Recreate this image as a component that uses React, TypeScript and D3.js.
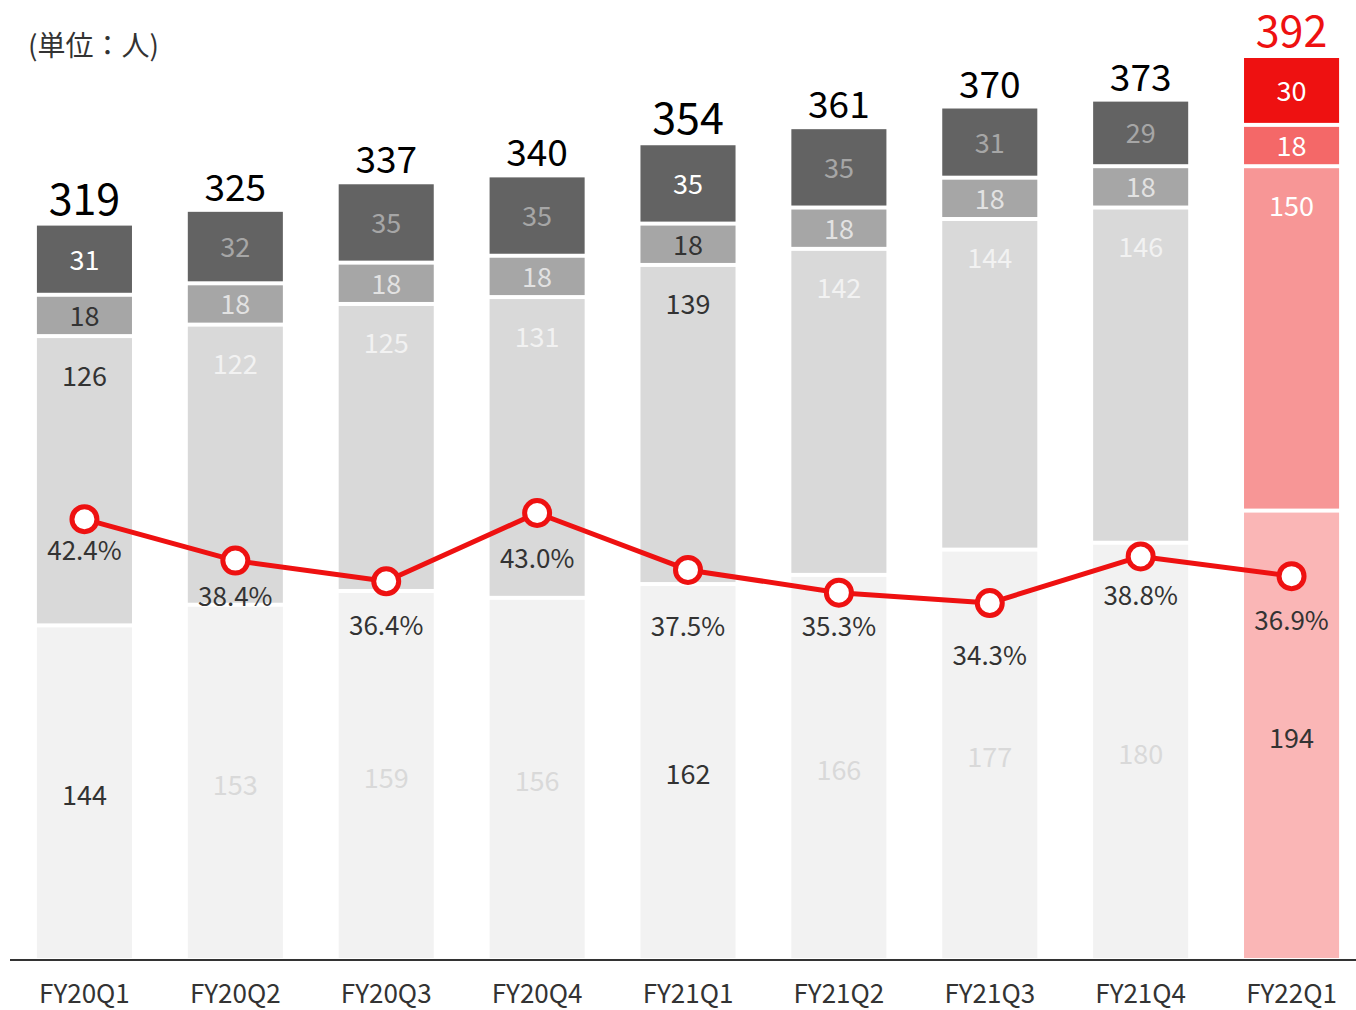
import React from "react";
import * as d3 from "d3";

const categories = ["FY20Q1", "FY20Q2", "FY20Q3", "FY20Q4", "FY21Q1", "FY21Q2", "FY21Q3", "FY21Q4", "FY22Q1"];
const seriesBottom = [144, 153, 159, 156, 162, 166, 177, 180, 194];
const seriesThird = [126, 122, 125, 131, 139, 142, 144, 146, 150];
const seriesSecond = [18, 18, 18, 18, 18, 18, 18, 18, 18];
const seriesTop = [31, 32, 35, 35, 35, 35, 31, 29, 30];
const totals = [319, 325, 337, 340, 354, 361, 370, 373, 392];
const ratios = [42.4, 38.4, 36.4, 43.0, 37.5, 35.3, 34.3, 38.8, 36.9];
const emphasis = ["dark", "faded", "faded", "faded", "dark", "faded", "faded", "faded", "red"];
const pctLabelDy = [32, 36, 45, 46, 57, 34, 53, 39, 45];
const unitLabel = "(単位：人)";

const W = 1356;
const H = 1010;
const FONT = "'Noto Sans CJK JP', 'Noto Sans', sans-serif";
const GAP = 4;

const fills: Record<string, string[]> = {
  gray: ["#f2f2f2", "#d9d9d9", "#a6a6a6", "#636363"],
  red: ["#fab6b6", "#f79696", "#f46868", "#ee1111"],
};
const textColors: Record<string, string[]> = {
  dark: ["#333333", "#333333", "#333333", "#ffffff"],
  faded: ["#d9d9d9", "#f2f2f2", "#e2e2e2", "#a6a6a6"],
  red: ["#333333", "#ffffff", "#ffffff", "#ffffff"],
};

export default function App() {
  const x = d3
    .scaleBand<string>()
    .domain(categories)
    .range([9, 1367])
    .paddingInner(0.37)
    .paddingOuter(0.185);
  const y = d3.scaleLinear().domain([0, 392]).range([958, 58]);
  const yp = d3.scaleLinear().domain([0, 43]).range([958, 513]);

  const seriesList = [seriesBottom, seriesThird, seriesSecond, seriesTop];

  const line = d3
    .line<number>()
    .x((_, i) => (x(categories[i]) as number) + x.bandwidth() / 2)
    .y((d) => yp(d));

  return (
    <svg width={W} height={H} style={{ position: "absolute", left: 0, top: 0, background: "#fff" }} fontFamily={FONT}>
      <text x={28} y={56} fontSize={28} fill="#333">{unitLabel}</text>
      {categories.map((c, i) => {
        const x0 = x(c) as number;
        const bw = x.bandwidth();
        const cx = x0 + bw / 2;
        const pal = emphasis[i] === "red" ? fills.red : fills.gray;
        const tc = textColors[emphasis[i]];
        const big = emphasis[i] !== "faded";
        let cum = 0;
        const segs = seriesList.map((s, k) => {
          const v = s[i];
          const yTop = y(cum + v);
          const yBot = y(cum) - (k === 0 ? 0 : GAP);
          cum += v;
          let ly: number;
          if (k === 1) ly = yTop + 38;
          else if (k === 0) ly = (yTop + yBot) / 2 + 3;
          else ly = (yTop + yBot) / 2 + 1;
          return (
            <g key={k}>
              <rect x={x0} y={yTop} width={bw} height={Math.max(0, yBot - yTop)} fill={pal[k]} />
              <text x={cx} y={ly} dy="0.35em" textAnchor="middle" fontSize={27} fill={tc[k]}>
                {v}
              </text>
            </g>
          );
        });
        return (
          <g key={c}>
            {segs}
            <text
              x={cx}
              y={y(totals[i]) - 11}
              textAnchor="middle"
              fontSize={big ? 43 : 37}
              fill={emphasis[i] === "red" ? "#ee1111" : "#000"}
            >
              {totals[i]}
            </text>
            <text x={cx} y={1003} textAnchor="middle" fontSize={26} fill="#333">
              {c}
            </text>
          </g>
        );
      })}
      <line x1={10} x2={1356} y1={960} y2={960} stroke="#333" strokeWidth={2} />
      <path d={line(ratios) || ""} fill="none" stroke="#ee1111" strokeWidth={5} strokeLinejoin="round" />
      {ratios.map((r, i) => {
        const cx = (x(categories[i]) as number) + x.bandwidth() / 2;
        return (
          <g key={i}>
            <circle cx={cx} cy={yp(r)} r={12.5} fill="#fff" stroke="#ee1111" strokeWidth={5} />
            <text x={cx} y={yp(r) + pctLabelDy[i]} dy="0.35em" textAnchor="middle" fontSize={26} fill="#333">
              {r.toFixed(1) + "%"}
            </text>
          </g>
        );
      })}
    </svg>
  );
}
